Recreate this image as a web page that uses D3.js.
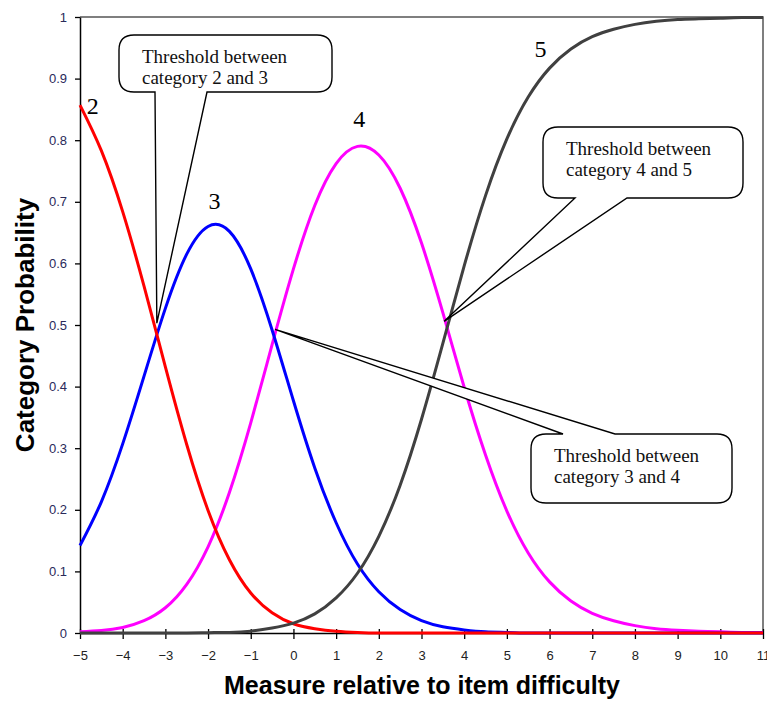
<!DOCTYPE html>
<html>
<head>
<meta charset="utf-8">
<script src="https://cdn.jsdelivr.net/npm/d3@7/dist/d3.min.js"></script>
<style>
  html, body { margin: 0; padding: 0; background: #fff; }
  svg { display: block; }
</style>
</head>
<body>
<svg id="chart" width="767" height="702"></svg>
<script>
// Person measure relative to item difficulty (logits)
const measures = [-5, -4.5, -4, -3.5, -3, -2.5, -2, -1.5, -1, -0.5, 0, 0.5, 1, 1.5, 2, 2.5,
  3, 3.5, 4, 4.5, 5, 5.5, 6, 6.5, 7, 7.5, 8, 8.5, 9, 9.5, 10, 10.5, 11];

// Category probability curves
const cat2 = [0.857, 0.783, 0.684, 0.563, 0.432, 0.306, 0.199, 0.119, 0.065, 0.033, 0.015, 0.007,
  0.003, 0.001, 0, 0, 0, 0, 0, 0, 0, 0, 0, 0, 0, 0, 0, 0, 0, 0, 0, 0, 0];
const cat3 = [0.142, 0.213, 0.307, 0.417, 0.527, 0.615, 0.660, 0.652, 0.591, 0.492, 0.377, 0.268,
  0.179, 0.112, 0.067, 0.038, 0.020, 0.010, 0.005, 0.002, 0.001, 0, 0, 0, 0, 0, 0, 0, 0, 0, 0, 0, 0];
const cat4 = [0.002, 0.004, 0.009, 0.020, 0.041, 0.079, 0.140, 0.228, 0.341, 0.468, 0.591, 0.694,
  0.762, 0.790, 0.776, 0.722, 0.633, 0.520, 0.399, 0.289, 0.198, 0.130, 0.083, 0.052, 0.032, 0.020,
  0.012, 0.007, 0.0045, 0.003, 0.002, 0.001, 0.001];
const cat5 = [0, 0, 0, 0, 0, 0, 0.0005, 0.001, 0.003, 0.008, 0.016, 0.031, 0.057, 0.097, 0.157,
  0.240, 0.347, 0.470, 0.596, 0.710, 0.802, 0.870, 0.917, 0.948, 0.968, 0.980, 0.988, 0.993, 0.996,
  0.997, 0.998, 0.999, 0.999];

const seriesNames = ["4", "3", "2", "5"];
const seriesValues = [cat4, cat3, cat2, cat5];
const seriesColors = ["#ff00ff", "#0000ff", "#ff0000", "#404040"];

// Curve labels: [name, measure, probability at baseline]
const curveLabels = [["2", -4.84, 0.842], ["3", -1.99, 0.688], ["4", 1.4, 0.822], ["5", 5.65, 0.935]];

// Tick labels
const xTicks = [-5, -4, -3, -2, -1, 0, 1, 2, 3, 4, 5, 6, 7, 8, 9, 10, 11];
const yTicks = [0, 0.1, 0.2, 0.3, 0.4, 0.5, 0.6, 0.7, 0.8, 0.9, 1];

// Threshold callouts: text lines, crossing point (measure, probability)
const calloutText = [
  ["Threshold between", "category 2 and 3"],
  ["Threshold between", "category 4 and 5"],
  ["Threshold between", "category 3 and 4"]
];
const thresholdX = [-3.2, 3.53, -0.43];
const thresholdP = [0.503, 0.506, 0.493];

const svg = d3.select("#chart");
const plotLeft = 80, plotRight = 763, plotTop = 17, plotBottom = 633;

const x = d3.scaleLinear().domain([-5, 11]).range([plotLeft, plotRight]);
const y = d3.scaleLinear().domain([0, 1]).range([plotBottom, plotTop]);

// plot frame (top and right)
svg.append("path")
  .attr("d", `M${plotLeft},${plotTop}H${plotRight}V${plotBottom}`)
  .attr("fill", "none").attr("stroke", "#555").attr("stroke-width", 1.5);

// y axis
const yAxis = svg.append("g").attr("transform", `translate(${plotLeft},0)`)
  .call(d3.axisLeft(y).tickValues(yTicks).tickSize(5).tickSizeOuter(0)
    .tickFormat(d => d === 0 ? "0" : d3.format("~g")(d)));
yAxis.select(".domain").attr("stroke", "#000").attr("stroke-width", 1.5);
yAxis.selectAll(".tick line").attr("stroke", "#000").attr("stroke-width", 1.3);
yAxis.selectAll(".tick text")
  .attr("font-family", "Liberation Sans, Arial, sans-serif")
  .attr("font-size", 13).attr("fill", "#2a2a5a").attr("x", -13);

// x axis
const xAxis = svg.append("g").attr("transform", `translate(0,${plotBottom})`)
  .call(d3.axisBottom(x).tickValues(xTicks).tickSize(6).tickSizeOuter(0).tickFormat(d3.format("d")));
xAxis.select(".domain").attr("stroke", "#000").attr("stroke-width", 1.5);
xAxis.selectAll(".tick line").attr("stroke", "#000").attr("stroke-width", 1.3).attr("y1", -4);
xAxis.selectAll(".tick text")
  .attr("font-family", "Liberation Sans, Arial, sans-serif")
  .attr("font-size", 13).attr("fill", "#222").attr("y", 18);

// probability curves
const line = d3.line()
  .x((d, i) => x(measures[i]))
  .y(d => y(d))
  .curve(d3.curveNatural);

svg.append("g").selectAll("path")
  .data(seriesValues)
  .join("path")
  .attr("d", d => line(d))
  .attr("fill", "none")
  .attr("stroke", (d, i) => seriesColors[i])
  .attr("stroke-width", 3)
  .attr("stroke-linejoin", "round");

// curve labels
svg.append("g").selectAll("text")
  .data(curveLabels)
  .join("text")
  .attr("x", d => x(d[1]))
  .attr("y", d => y(d[2]))
  .attr("font-family", "Liberation Serif, Times New Roman, serif")
  .attr("font-size", 24)
  .attr("fill", "#000")
  .text(d => d[0]);

// callout boxes: [x0, y0, x1, y1, wedge side, wedge start, wedge end]
const boxes = [
  [119, 35, 332, 92, "bottom", 155, 207],
  [543, 127, 743, 198, "bottom", 575, 627],
  [531, 434, 732, 503, "top", 563, 615]
];

function calloutPath(b, tx, ty) {
  const [x0, y0, x1, y1, side, a, c] = b;
  const r = 15;
  const p = d3.path();
  p.moveTo(x0 + r, y0);
  if (side === "top") { p.lineTo(a, y0); p.lineTo(tx, ty); p.lineTo(c, y0); }
  p.lineTo(x1 - r, y0);
  p.quadraticCurveTo(x1, y0, x1, y0 + r);
  p.lineTo(x1, y1 - r);
  p.quadraticCurveTo(x1, y1, x1 - r, y1);
  if (side === "bottom") { p.lineTo(c, y1); p.lineTo(tx, ty); p.lineTo(a, y1); }
  p.lineTo(x0 + r, y1);
  p.quadraticCurveTo(x0, y1, x0, y1 - r);
  p.lineTo(x0, y0 + r);
  p.quadraticCurveTo(x0, y0, x0 + r, y0);
  p.closePath();
  return p.toString();
}

const callouts = svg.append("g");
boxes.forEach((b, i) => {
  const tx = x(thresholdX[i]), ty = y(thresholdP[i]);
  callouts.append("path")
    .attr("d", calloutPath(b, tx, ty))
    .attr("fill", "#fff")
    .attr("stroke", "#000")
    .attr("stroke-width", 1.4)
    .attr("stroke-linejoin", "miter");
  const t = callouts.append("text")
    .attr("font-family", "Liberation Serif, Times New Roman, serif")
    .attr("font-size", 19)
    .attr("fill", "#111");
  calloutText[i].forEach((s, j) => {
    t.append("tspan").attr("x", b[0] + 23).attr("y", b[1] + 28 + j * 21).text(s);
  });
});

// axis titles
svg.append("text")
  .attr("x", 422).attr("y", 694)
  .attr("text-anchor", "middle")
  .attr("font-family", "Liberation Sans, Arial, sans-serif")
  .attr("font-weight", "bold").attr("font-size", 25).attr("fill", "#000")
  .text("Measure relative to item difficulty");

svg.append("text")
  .attr("transform", "translate(34,325) rotate(-90)")
  .attr("text-anchor", "middle")
  .attr("font-family", "Liberation Sans, Arial, sans-serif")
  .attr("font-weight", "bold").attr("font-size", 26).attr("fill", "#000")
  .text("Category Probability");
</script>
</body>
</html>
